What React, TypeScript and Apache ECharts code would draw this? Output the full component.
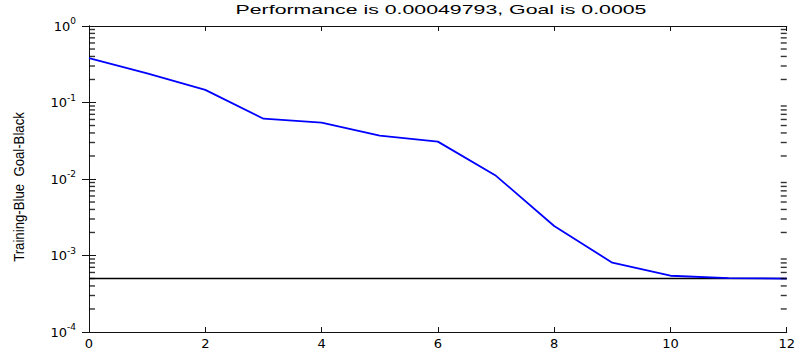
import React, { useEffect, useRef } from "react";
import * as echarts from "echarts";

const epochs = [0, 1, 2, 3, 4, 5, 6, 7, 8, 9, 10, 11, 12];
const training = [0.38, 0.24, 0.146, 0.0614, 0.0545, 0.0368, 0.0308, 0.011, 0.00243, 0.000805, 0.000544, 0.000506, 0.00049793];
const goal = 0.0005;
const xMin = 0;
const xMax = 12;
const xInterval = 2;
const yMin = 1e-4;
const yMax = 1;
const decades = [1e-4, 1e-3, 1e-2, 1e-1];
const minorMultipliers = [2, 3, 4, 5, 6, 7, 8, 9];
const titleText = "Performance is 0.00049793, Goal is 0.0005";
const yName = "Training-Blue  Goal-Black";

export default function App() {
  const ref = useRef<HTMLDivElement>(null);
  useEffect(() => {
    if (!ref.current) return;
    const chart = echarts.init(ref.current, undefined, { renderer: "svg" });
    const minorValues: number[] = [];
    decades.forEach((d) => minorMultipliers.forEach((m) => minorValues.push(d * m)));
    const leftTicks = minorValues.map((v) => [xMin, v]);
    const rightTicks = minorValues.map((v) => [xMax, v]);
    const lineData = epochs.map((e, i) => [e, training[i]]);
    const goalData = [[xMin, goal], [xMax, goal]];
    const axisLine = { show: true, lineStyle: { color: "#111", width: 1 } };
    const labelFont = { fontFamily: "DejaVu Sans", fontSize: 13, color: "#000" };
    const tickSeries = (data: number[][], off: number) => ({
      type: "scatter",
      data,
      symbol: "rect",
      symbolSize: [6, 1.4],
      symbolOffset: [off, 0],
      itemStyle: { color: "#000" },
      clip: false,
      silent: true,
      z: 5,
    });
    chart.setOption({
      animation: false,
      backgroundColor: "#fff",
      grid: { left: 89, right: 9, top: 26, bottom: 19, containLabel: false },
      graphic: [
        {
          type: "text",
          x: 441,
          y: 10,
          scaleX: 1.64,
          style: {
            text: titleText,
            fontFamily: "Liberation Sans",
            fontSize: 13,
            fill: "#000",
            align: "center",
            verticalAlign: "middle",
          },
        },
        {
          type: "text",
          x: 19,
          y: 187,
          rotation: Math.PI / 2,
          scaleX: 0.88,
          style: {
            text: yName,
            fontFamily: "Liberation Sans",
            fontSize: 15,
            fill: "#000",
            align: "center",
            verticalAlign: "middle",
          },
        },
      ],
      xAxis: [
        {
          type: "value",
          min: xMin,
          max: xMax,
          interval: xInterval,
          position: "bottom",
          axisLine,
          axisTick: { show: true, inside: true, length: 5, lineStyle: { color: "#111" } },
          axisLabel: { ...labelFont, margin: 5 },
          splitLine: { show: false },
        },
        {
          type: "value",
          min: xMin,
          max: xMax,
          interval: xInterval,
          position: "top",
          axisLine,
          axisTick: { show: true, inside: true, length: 5, lineStyle: { color: "#111" } },
          axisLabel: { show: false },
          splitLine: { show: false },
        },
      ],
      yAxis: [
        {
          type: "log",
          logBase: 10,
          min: yMin,
          max: yMax,
          position: "left",
          axisLine,
          axisTick: { show: true, inside: true, length: 7, lineStyle: { color: "#111" } },
          axisLabel: {
            margin: 13,
            formatter: (v: number) => `{b|10}{s|${Math.round(Math.log10(v))}}`,
            rich: {
              b: { ...labelFont },
              s: { fontFamily: "DejaVu Sans", fontSize: 9, color: "#000", padding: [0, 0, 10, 0] },
            },
          },
          splitLine: { show: false },
        },
        {
          type: "log",
          logBase: 10,
          min: yMin,
          max: yMax,
          position: "right",
          axisLine,
          axisTick: { show: true, inside: true, length: 7, lineStyle: { color: "#111" } },
          axisLabel: { show: false },
          splitLine: { show: false },
        },
      ],
      series: [
        tickSeries(leftTicks, 3),
        tickSeries(rightTicks, -3),
        {
          type: "line",
          data: goalData,
          symbol: "none",
          lineStyle: { color: "#000", width: 1.6 },
          silent: true,
        },
        {
          type: "line",
          data: lineData,
          symbol: "none",
          lineStyle: { color: "#0000ff", width: 1.8 },
          silent: true,
        },
      ],
    });
    return () => chart.dispose();
  }, []);
  return <div ref={ref} style={{ width: 798, height: 351, position: "absolute", left: 0, top: 0 }} />;
}
